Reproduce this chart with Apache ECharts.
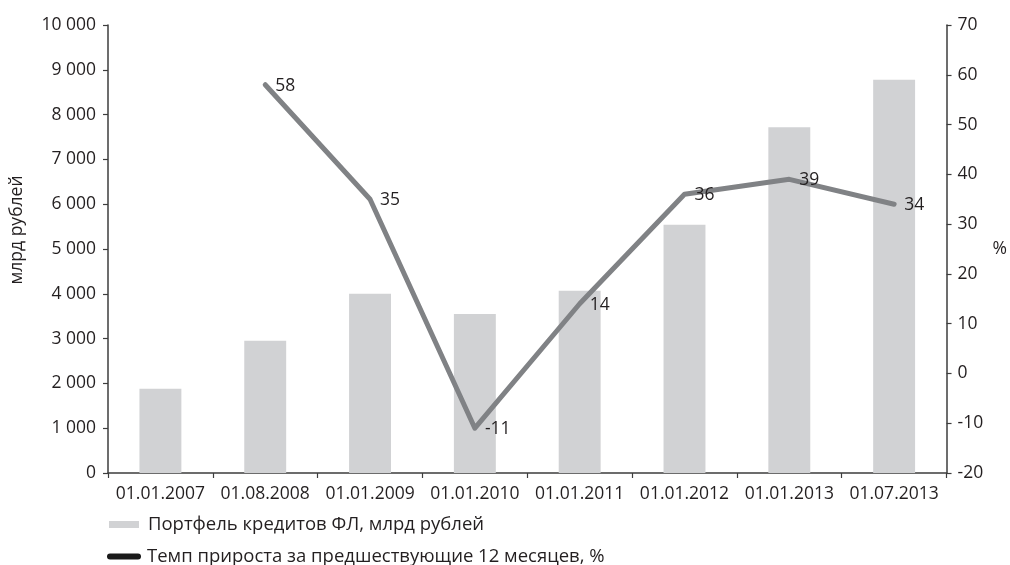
<!DOCTYPE html>
<html>
<head>
<meta charset="utf-8">
<script src="https://cdn.jsdelivr.net/npm/echarts@6/dist/echarts.min.js"></script>
<style>
  html, body { margin: 0; padding: 0; background: #ffffff; }
  #chart { width: 1010px; height: 565px; }
</style>
</head>
<body>
<div id="chart"></div>
<script>
// Retail loan portfolio and 12-month growth rate
const categories = ['01.01.2007', '01.08.2008', '01.01.2009', '01.01.2010', '01.01.2011', '01.01.2012', '01.01.2013', '01.07.2013'];
const portfolio = [1880, 2950, 4000, 3550, 4070, 5540, 7720, 8780];
const growth = [null, 58, 35, -11, 14, 36, 39, 34];

const barName = 'Портфель кредитов ФЛ, млрд рублей';
const lineName = 'Темп прироста за предшествующие 12 месяцев, %';

const FONT = '"Open Sans", "Noto Sans", sans-serif';
const FS = 17.5;
const LEGEND_FS = 18.5;
const TEXT = '#231f20';
const AXIS = '#3d3d3d';

function spaced(v) {
  return String(v).replace(/\B(?=(\d{3})+(?!\d))/g, ' ');
}

const chart = echarts.init(document.getElementById('chart'));
chart.setOption({
  animation: false,
  textStyle: { fontFamily: FONT },
  grid: { left: 108, right: 61, top: 25, bottom: 92 },
  legend: [
    {
      left: 104, top: 510, orient: 'vertical',
      itemWidth: 30, itemHeight: 7, icon: 'rect',
      textStyle: { fontSize: LEGEND_FS, color: TEXT, fontFamily: FONT, padding: [0, 0, 0, 4] },
      data: [{ name: barName }]
    },
    {
      left: 102, top: 542, orient: 'vertical',
      itemWidth: 34, itemHeight: 6,
      icon: 'path://M3,0 H31 A3,3 0 0 1 31,6 H3 A3,3 0 0 1 3,0 Z',
      textStyle: { fontSize: LEGEND_FS, color: TEXT, fontFamily: FONT, padding: [0, 0, 0, 1] },
      data: [{ name: lineName, itemStyle: { color: '#1a1a1a' } }]
    }
  ],
  xAxis: {
    type: 'category',
    data: categories,
    boundaryGap: true,
    axisLine: { lineStyle: { color: AXIS, width: 1.5 } },
    axisTick: { show: true, length: 5, alignWithLabel: false, lineStyle: { color: AXIS, width: 1.2 } },
    axisLabel: { color: TEXT, fontSize: FS, margin: 12, interval: 0 }
  },
  yAxis: [
    {
      type: 'value', min: 0, max: 10000, interval: 1000,
      name: 'млрд рублей', nameLocation: 'middle', nameGap: 82,
      nameTextStyle: { color: TEXT, fontSize: FS, padding: [0, 0, 0, 38] },
      splitLine: { show: false },
      axisLine: { show: true, lineStyle: { color: AXIS, width: 1.5 } },
      axisTick: { show: true, length: 5, lineStyle: { color: AXIS, width: 1.2 } },
      axisLabel: { color: TEXT, fontSize: FS, margin: 12, formatter: spaced }
    },
    {
      type: 'value', min: -20, max: 70, interval: 10, position: 'right',
      name: '%', nameLocation: 'middle', nameGap: 46, nameRotate: 0,
      nameTextStyle: { color: TEXT, fontSize: FS },
      splitLine: { show: false },
      axisLine: { show: true, lineStyle: { color: AXIS, width: 1.5 } },
      axisTick: { show: true, length: 5, lineStyle: { color: AXIS, width: 1.2 } },
      axisLabel: { color: TEXT, fontSize: FS, margin: 11 }
    }
  ],
  series: [
    {
      name: barName,
      type: 'bar',
      data: portfolio,
      barWidth: '40%',
      itemStyle: { color: '#d1d2d4' }
    },
    {
      name: lineName,
      type: 'line',
      yAxisIndex: 1,
      data: growth,
      symbol: 'circle',
      symbolSize: 0.1,
      showSymbol: true,
      connectNulls: false,
      lineStyle: { color: '#808285', width: 5, cap: 'round', join: 'round' },
      itemStyle: { color: '#808285' },
      label: {
        show: true, position: 'right', distance: 10, offset: [0, 1],
        color: TEXT, fontSize: FS, fontFamily: FONT
      },
      z: 3
    }
  ]
});
</script>
</body>
</html>
